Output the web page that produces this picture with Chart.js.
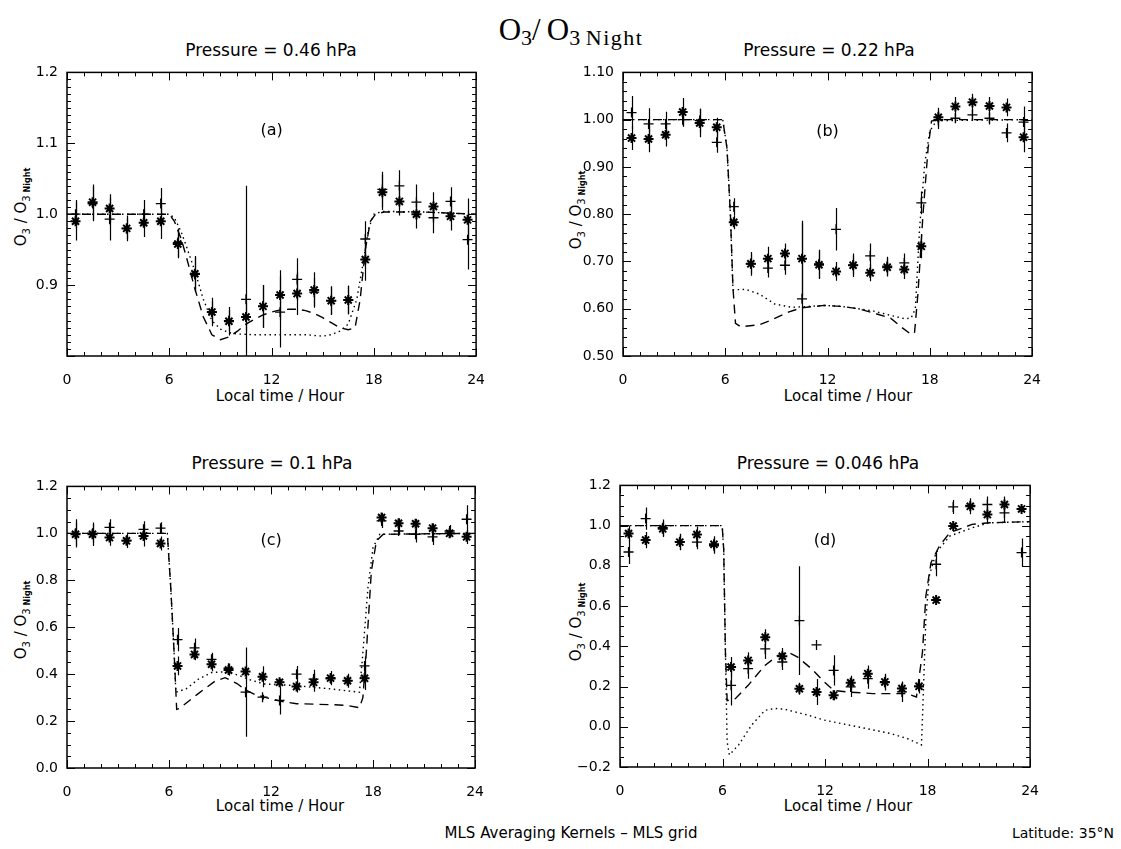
<!DOCTYPE html>
<html>
<head>
<meta charset="utf-8">
<script src="https://cdn.jsdelivr.net/npm/chart.js@4"></script>
<style>
body{margin:0;background:#fff;width:1121px;height:849px;position:relative;overflow:hidden;font-family:'DejaVu Sans',sans-serif;color:#000}
.t{position:absolute;transform:translate(-50%,-50%);white-space:nowrap}
.pt{font-size:17px}
.xt{font-size:15px}
.yt{position:absolute;transform:translate(-50%,-50%) rotate(-90deg);white-space:nowrap;font-size:15px}
.yt sub{font-size:10px}
.yt sub.n{font-size:8px;font-weight:bold}
.box{position:absolute}
#main{font-family:'Liberation Serif',serif;font-size:31px}
#main sub{font-size:22px;vertical-align:-5px}
</style>
</head>
<body>
<div id="main" class="t" style="left:571px;top:31px">O<sub>3</sub>/&thinsp;O<sub>3&nbsp;<span style="letter-spacing:1.5px">Night</span></sub></div>

<div class="t pt" style="left:271px;top:50px">Pressure = 0.46 hPa</div>
<div class="t pt" style="left:829px;top:50px">Pressure = 0.22 hPa</div>
<div class="t pt" style="left:272px;top:463px">Pressure = 0.1 hPa</div>
<div class="t pt" style="left:828px;top:463px">Pressure = 0.046 hPa</div>

<div class="t xt" style="left:280px;top:396px">Local time / Hour</div>
<div class="t xt" style="left:848px;top:396px">Local time / Hour</div>
<div class="t xt" style="left:280px;top:806px">Local time / Hour</div>
<div class="t xt" style="left:848px;top:806px">Local time / Hour</div>

<div class="yt" style="left:22px;top:207px">O<sub>3</sub> / O<sub>3</sub><sub class="n"> Night</sub></div>
<div class="yt" style="left:577px;top:210px">O<sub>3</sub> / O<sub>3</sub><sub class="n"> Night</sub></div>
<div class="yt" style="left:22px;top:620px">O<sub>3</sub> / O<sub>3</sub><sub class="n"> Night</sub></div>
<div class="yt" style="left:577px;top:622px">O<sub>3</sub> / O<sub>3</sub><sub class="n"> Night</sub></div>

<div class="t xt" style="left:571px;top:833px">MLS Averaging Kernels &ndash; MLS grid</div>
<div class="t" style="left:1063px;top:833px;font-size:14px">Latitude: 35°N</div>

<div class="box" id="boxA"><canvas id="cA"></canvas></div>
<div class="box" id="boxB"><canvas id="cB"></canvas></div>
<div class="box" id="boxC"><canvas id="cC"></canvas></div>
<div class="box" id="boxD"><canvas id="cD"></canvas></div>

<script>
// local time of the retrievals (hours)
const hours = [0.5,1.5,2.5,3.5,4.5,5.5,6.5,7.5,8.5,9.5,10.5,11.5,12.5,13.5,14.5,15.5,16.5,17.5,18.5,19.5,20.5,21.5,22.5,23.5];

// (a) 0.46 hPa
const starA = [0.990,1.017,1.008,0.980,0.988,0.990,0.958,0.916,0.862,0.849,0.855,0.870,0.886,0.888,0.893,0.878,0.879,0.936,1.031,1.018,1.000,1.011,0.997,0.992];
const starErrA = [0.027,0.025,0.02,0.018,0.02,0.025,0.02,0.025,0.02,0.02,0.02,0.03,0.035,0.03,0.025,0.02,0.02,0.03,0.025,0.02,0.02,0.02,0.02,0.03];
const plusA = [1.000,1.015,0.993,0.980,1.000,1.015,0.960,0.915,0.862,0.850,0.880,0.870,0.862,0.908,0.890,0.878,0.879,0.965,1.035,1.040,1.017,0.995,1.018,0.964];
const plusErrA = [0.02,0.025,0.03,0.015,0.02,0.022,0.02,0.025,0.015,0.015,0.16,0.03,0.05,0.03,0.02,0.02,0.02,0.025,0.025,0.022,0.025,0.022,0.02,0.042];
const dashAx = [0,6,6.3,6.7,7,7.5,8,8.5,9,9.5,10,10.5,11,11.5,12,12.5,13,13.5,14,14.5,15,15.5,16,16.5,16.9,17.2,17.5,17.8,18.1,18.6,21,24];
const dashAy = [1,1,0.99,0.965,0.94,0.895,0.855,0.83,0.823,0.827,0.835,0.845,0.852,0.858,0.862,0.865,0.866,0.866,0.864,0.86,0.854,0.847,0.84,0.837,0.84,0.88,0.95,0.99,1.0,1.003,1.003,1.0];
const dotAx = [0,6,6.3,6.7,7,7.5,8,8.5,9,9.5,10,11,12,13,14,15,15.5,16,16.5,17,17.4,17.7,18,18.5,21,24];
const dotAy = [1,1,0.995,0.975,0.955,0.92,0.88,0.85,0.838,0.833,0.831,0.83,0.83,0.83,0.83,0.828,0.83,0.835,0.845,0.88,0.935,0.98,1.0,1.004,1.003,1.0];

// (b) 0.22 hPa
const starB = [0.961,0.959,0.968,1.016,0.993,0.984,0.783,0.695,0.706,0.717,0.706,0.693,0.679,0.692,0.676,0.688,0.683,0.732,1.005,1.028,1.037,1.029,1.026,0.963];
const starErrB = [0.025,0.028,0.025,0.03,0.03,0.02,0.015,0.025,0.025,0.021,0.08,0.03,0.02,0.025,0.018,0.02,0.02,0.025,0.02,0.02,0.018,0.019,0.019,0.032];
const plusB = [1.015,0.991,0.991,1.000,0.998,0.952,0.816,0.695,0.686,0.692,0.621,0.695,0.768,0.692,0.712,0.690,0.697,0.824,1.000,1.003,1.010,1.003,0.972,0.995];
const plusErrB = [0.035,0.033,0.026,0.015,0.025,0.022,0.018,0.02,0.02,0.02,0.16,0.03,0.045,0.02,0.026,0.02,0.02,0.024,0.02,0.01,0.013,0.013,0.02,0.033];
const dashBx = [0,5.85,6.1,6.3,6.45,6.6,6.9,8,8.7,9.7,10.5,11.8,12.8,13.8,14.7,15.7,16.3,16.85,17.1,17.3,17.6,17.9,18.1,18.5,24];
const dashBy = [1,1,0.94,0.8,0.645,0.569,0.562,0.566,0.576,0.593,0.602,0.607,0.605,0.6,0.591,0.58,0.562,0.547,0.548,0.63,0.8,0.94,0.997,1.0,1.0];
const dotBx = [0,5.85,6.1,6.3,6.45,7.2,8,8.9,9.9,10.9,11.8,12.8,13.8,14.7,15.7,16.5,16.9,17.15,17.4,17.7,18.0,18.4,24];
const dotBy = [1,1,0.94,0.8,0.64,0.641,0.631,0.61,0.603,0.605,0.607,0.605,0.6,0.595,0.586,0.579,0.58,0.6,0.77,0.907,0.976,0.998,1.0];

// (c) 0.1 hPa
const starC = [0.996,0.996,0.982,0.968,0.989,0.957,0.435,0.484,0.442,0.418,0.411,0.389,0.365,0.347,0.365,0.383,0.372,0.382,1.067,1.043,1.041,1.022,1.000,0.985];
const starErrC = [0.05,0.05,0.035,0.03,0.045,0.03,0.04,0.025,0.03,0.025,0.03,0.045,0.015,0.025,0.04,0.03,0.03,0.05,0.02,0.02,0.02,0.02,0.018,0.03];
const plusC = [1.000,1.000,1.025,0.970,1.017,1.022,0.547,0.512,0.463,0.425,0.323,0.302,0.288,0.400,0.379,0.380,0.372,0.435,1.053,1.010,0.996,0.985,1.010,1.060];
const plusErrC = [0.06,0.04,0.035,0.02,0.035,0.025,0.05,0.04,0.028,0.02,0.19,0.01,0.06,0.035,0.04,0.02,0.025,0.04,0.03,0.015,0.035,0.035,0.025,0.06];
const dashCx = [0,5.9,6.1,6.3,6.45,6.6,7.7,8.7,9.3,10,10.45,11,11.6,12.6,13.5,15.5,16.45,17.2,17.4,17.6,17.9,18.2,18.6,24];
const dashCy = [1,1,0.772,0.49,0.25,0.253,0.316,0.37,0.385,0.36,0.335,0.315,0.302,0.284,0.274,0.27,0.267,0.257,0.3,0.49,0.84,0.968,0.996,1.0];
const dotCx = [0,5.9,6.1,6.3,6.4,7.0,7.74,8.5,9.3,10.06,10.8,11.6,13.5,15.5,17.2,17.4,17.7,18.0,18.4,24];
const dotCy = [1,1,0.772,0.49,0.323,0.337,0.379,0.407,0.41,0.396,0.375,0.358,0.351,0.337,0.323,0.49,0.77,0.94,0.996,1.0];

// (d) 0.046 hPa
const starD = [0.961,0.928,0.984,0.918,0.956,0.907,0.297,0.330,0.445,0.351,0.189,0.173,0.157,0.219,0.264,0.223,0.190,0.201,0.630,0.998,1.096,1.055,1.105,1.083];
const starErrD = [0.04,0.04,0.04,0.04,0.04,0.04,0.05,0.04,0.04,0.04,0.03,0.065,0.025,0.035,0.04,0.04,0.035,0.035,0.02,0.025,0.04,0.04,0.04,0.015];
const plusD = [0.869,1.035,0.990,0.920,0.918,0.900,0.206,0.289,0.387,0.322,0.528,0.407,0.280,0.198,0.239,0.220,0.173,0.200,0.808,1.093,1.100,1.105,1.063,0.866];
const plusErrD = [0.06,0.055,0.04,0.04,0.035,0.04,0.1,0.05,0.05,0.04,0.27,0,0.075,0.05,0.05,0.04,0.05,0.02,0.06,0.035,0.01,0.04,0.045,0.07];
const dashDx = [0,5.98,6.07,6.17,6.27,6.75,7.5,8.48,9.25,9.83,10.4,11.2,11.95,12.5,13.3,14.8,16.8,17.35,17.7,17.9,18.2,18.7,19.3,20.6,21.6,23.5,24];
const dashDy = [1,1,0.88,0.37,0.13,0.14,0.206,0.305,0.355,0.371,0.346,0.289,0.223,0.181,0.173,0.165,0.165,0.148,0.37,0.65,0.816,0.9,0.965,1.006,1.014,1.019,1.02];
const dotDx = [0,5.98,6.07,6.17,6.27,6.4,6.94,7.7,8.48,9.06,9.64,10.99,11.95,13.9,15.8,16.8,17.64,17.7,17.9,18.1,18.5,19.3,20.6,21.6,24];
const dotDy = [1,1,0.88,0.37,-0.074,-0.14,-0.09,0.008,0.082,0.091,0.087,0.058,0.033,0.0,-0.033,-0.058,-0.09,0.04,0.535,0.75,0.866,0.948,0.989,1.014,1.02];

const xTicks = [0,6,12,18,24];

// box with inward ticks on all four sides, and the panel letter
const frame = {
  id: 'frame',
  afterDraw(chart, args, o) {
    const {ctx, chartArea: a, scales: {x, y}} = chart;
    ctx.save();
    ctx.strokeStyle = '#000';
    ctx.lineWidth = 1.5;
    ctx.strokeRect(a.left, a.top, a.width, a.height);
    ctx.lineWidth = 1;
    ctx.beginPath();
    for (let h = 0; h <= 24; h++) {
      const px = Math.round(x.getPixelForValue(h)) + 0.5;
      const len = h % 6 == 0 ? 8 : 4;
      ctx.moveTo(px, a.bottom); ctx.lineTo(px, a.bottom - len);
      ctx.moveTo(px, a.top); ctx.lineTo(px, a.top + len);
    }
    const n = Math.round((o.max - o.min) / o.minor);
    const every = Math.round(o.step / o.minor);
    for (let i = 0; i <= n; i++) {
      const v = o.min + i * o.minor;
      const py = Math.round(y.getPixelForValue(v)) + 0.5;
      const len = i % every == 0 ? 8 : 4;
      ctx.moveTo(a.left, py); ctx.lineTo(a.left + len, py);
      ctx.moveTo(a.right, py); ctx.lineTo(a.right - len, py);
    }
    ctx.stroke();
    ctx.fillStyle = '#000';
    ctx.font = '16px "DejaVu Sans"';
    ctx.textAlign = 'center';
    ctx.textBaseline = 'middle';
    ctx.fillText(o.letter, x.getPixelForValue(o.lx), y.getPixelForValue(o.ly));
    ctx.restore();
  }
};

// vertical error bars for datasets that carry an errors array
const errorBars = {
  id: 'errorBars',
  afterDatasetsDraw(chart) {
    const {ctx, chartArea: a, scales: {x, y}} = chart;
    ctx.save();
    ctx.beginPath();
    ctx.rect(a.left, a.top, a.width, a.height);
    ctx.clip();
    ctx.strokeStyle = '#000';
    ctx.lineWidth = 1.2;
    chart.data.datasets.forEach(ds => {
      if (!ds.errors) return;
      ds.data.forEach((p, i) => {
        const e = ds.errors[i];
        if (!e) return;
        const px = Math.round(x.getPixelForValue(p.x)) + 0.5;
        ctx.beginPath();
        ctx.moveTo(px, y.getPixelForValue(p.y - e));
        ctx.lineTo(px, y.getPixelForValue(p.y + e));
        ctx.stroke();
      });
    });
    ctx.restore();
  }
};

function pts(xs, ys) { return xs.map((v, i) => ({x: v, y: ys[i]})); }

const YW = 65, PT = 12, PR = 20, XH = 35;

function makePanel(id, area, series, ax) {
  const box = document.getElementById('box' + id);
  const w = area.r - area.l + YW + PR, h = area.b - area.t + PT + XH;
  box.style.left = (area.l - YW) + 'px';
  box.style.top = (area.t - PT) + 'px';
  const cv = document.getElementById('c' + id);
  cv.width = w; cv.height = h;
  cv.style.width = w + 'px'; cv.style.height = h + 'px';

  new Chart(cv, {
    type: 'scatter',
    data: {
      datasets: [
        { data: pts(series.dashX, series.dashY), showLine: true, borderColor: '#000', borderWidth: 1.4,
          borderDash: [9, 6], pointRadius: 0, tension: 0 },
        { data: pts(series.dotX, series.dotY), showLine: true, borderColor: '#000', borderWidth: 1.4,
          borderDash: [1.5, 3.5], pointRadius: 0, tension: 0 },
        { data: pts(hours, series.plus), errors: series.plusErr, pointStyle: 'cross', pointRadius: 5,
          borderColor: '#000', borderWidth: 1.3, showLine: false },
        { data: pts(hours, series.star), errors: series.starErr, pointStyle: 'star', pointRadius: 5,
          borderColor: '#000', borderWidth: 2, showLine: false }
      ]
    },
    options: {
      responsive: false,
      animation: false,
      layout: { padding: { left: 0, top: PT, right: PR, bottom: 0 } },
      plugins: {
        legend: { display: false },
        tooltip: { enabled: false },
        frame: ax
      },
      scales: {
        x: {
          type: 'linear', min: 0, max: 24,
          afterBuildTicks: s => { s.ticks = xTicks.map(v => ({value: v})); },
          afterFit: s => { s.height = XH; },
          grid: { display: false, drawTicks: false },
          border: { display: false },
          ticks: { color: '#000', padding: 16, font: { size: 14, family: 'DejaVu Sans' }, maxRotation: 0 }
        },
        y: {
          type: 'linear', min: ax.min, max: ax.max,
          afterBuildTicks: s => {
            const n = Math.round((ax.max - ax.min) / ax.step);
            const t = [];
            for (let i = 0; i <= n; i++) t.push({value: ax.min + i * ax.step});
            s.ticks = t;
          },
          afterFit: s => { s.width = YW; },
          grid: { display: false, drawTicks: false },
          border: { display: false },
          ticks: {
            color: '#000', padding: 9, font: { size: 14, family: 'DejaVu Sans' },
            callback: v => (ax.hide && Math.abs(v - ax.hide) < 1e-6) ? '' :
              (v < -1e-9 ? '\u2212' + Math.abs(v).toFixed(ax.digits) : Math.abs(v).toFixed(ax.digits))
          }
        }
      }
    },
    plugins: [errorBars, frame]
  });
}

makePanel('A', {l: 67, t: 67, r: 481, b: 356},
  {dashX: dashAx, dashY: dashAy, dotX: dotAx, dotY: dotAy, star: starA, starErr: starErrA, plus: plusA, plusErr: plusErrA},
  {min: 0.8, max: 1.2, step: 0.1, minor: 0.01, digits: 1, hide: 0.8, letter: '(a)', lx: 12, ly: 1.118});
makePanel('B', {l: 623, t: 67, r: 1037, b: 356},
  {dashX: dashBx, dashY: dashBy, dotX: dotBx, dotY: dotBy, star: starB, starErr: starErrB, plus: plusB, plusErr: plusErrB},
  {min: 0.5, max: 1.1, step: 0.1, minor: 0.02, digits: 2, letter: '(b)', lx: 12, ly: 0.975});
makePanel('C', {l: 67, t: 481, r: 480, b: 768},
  {dashX: dashCx, dashY: dashCy, dotX: dotCx, dotY: dotCy, star: starC, starErr: starErrC, plus: plusC, plusErr: plusErrC},
  {min: 0, max: 1.2, step: 0.2, minor: 0.05, digits: 1, letter: '(c)', lx: 12, ly: 0.968});
makePanel('D', {l: 620, t: 480, r: 1035, b: 767},
  {dashX: dashDx, dashY: dashDy, dotX: dotDx, dotY: dotDy, star: starD, starErr: starErrD, plus: plusD, plusErr: plusErrD},
  {min: -0.2, max: 1.2, step: 0.2, minor: 0.05, digits: 1, letter: '(d)', lx: 12, ly: 0.925});
</script>
</body>
</html>
